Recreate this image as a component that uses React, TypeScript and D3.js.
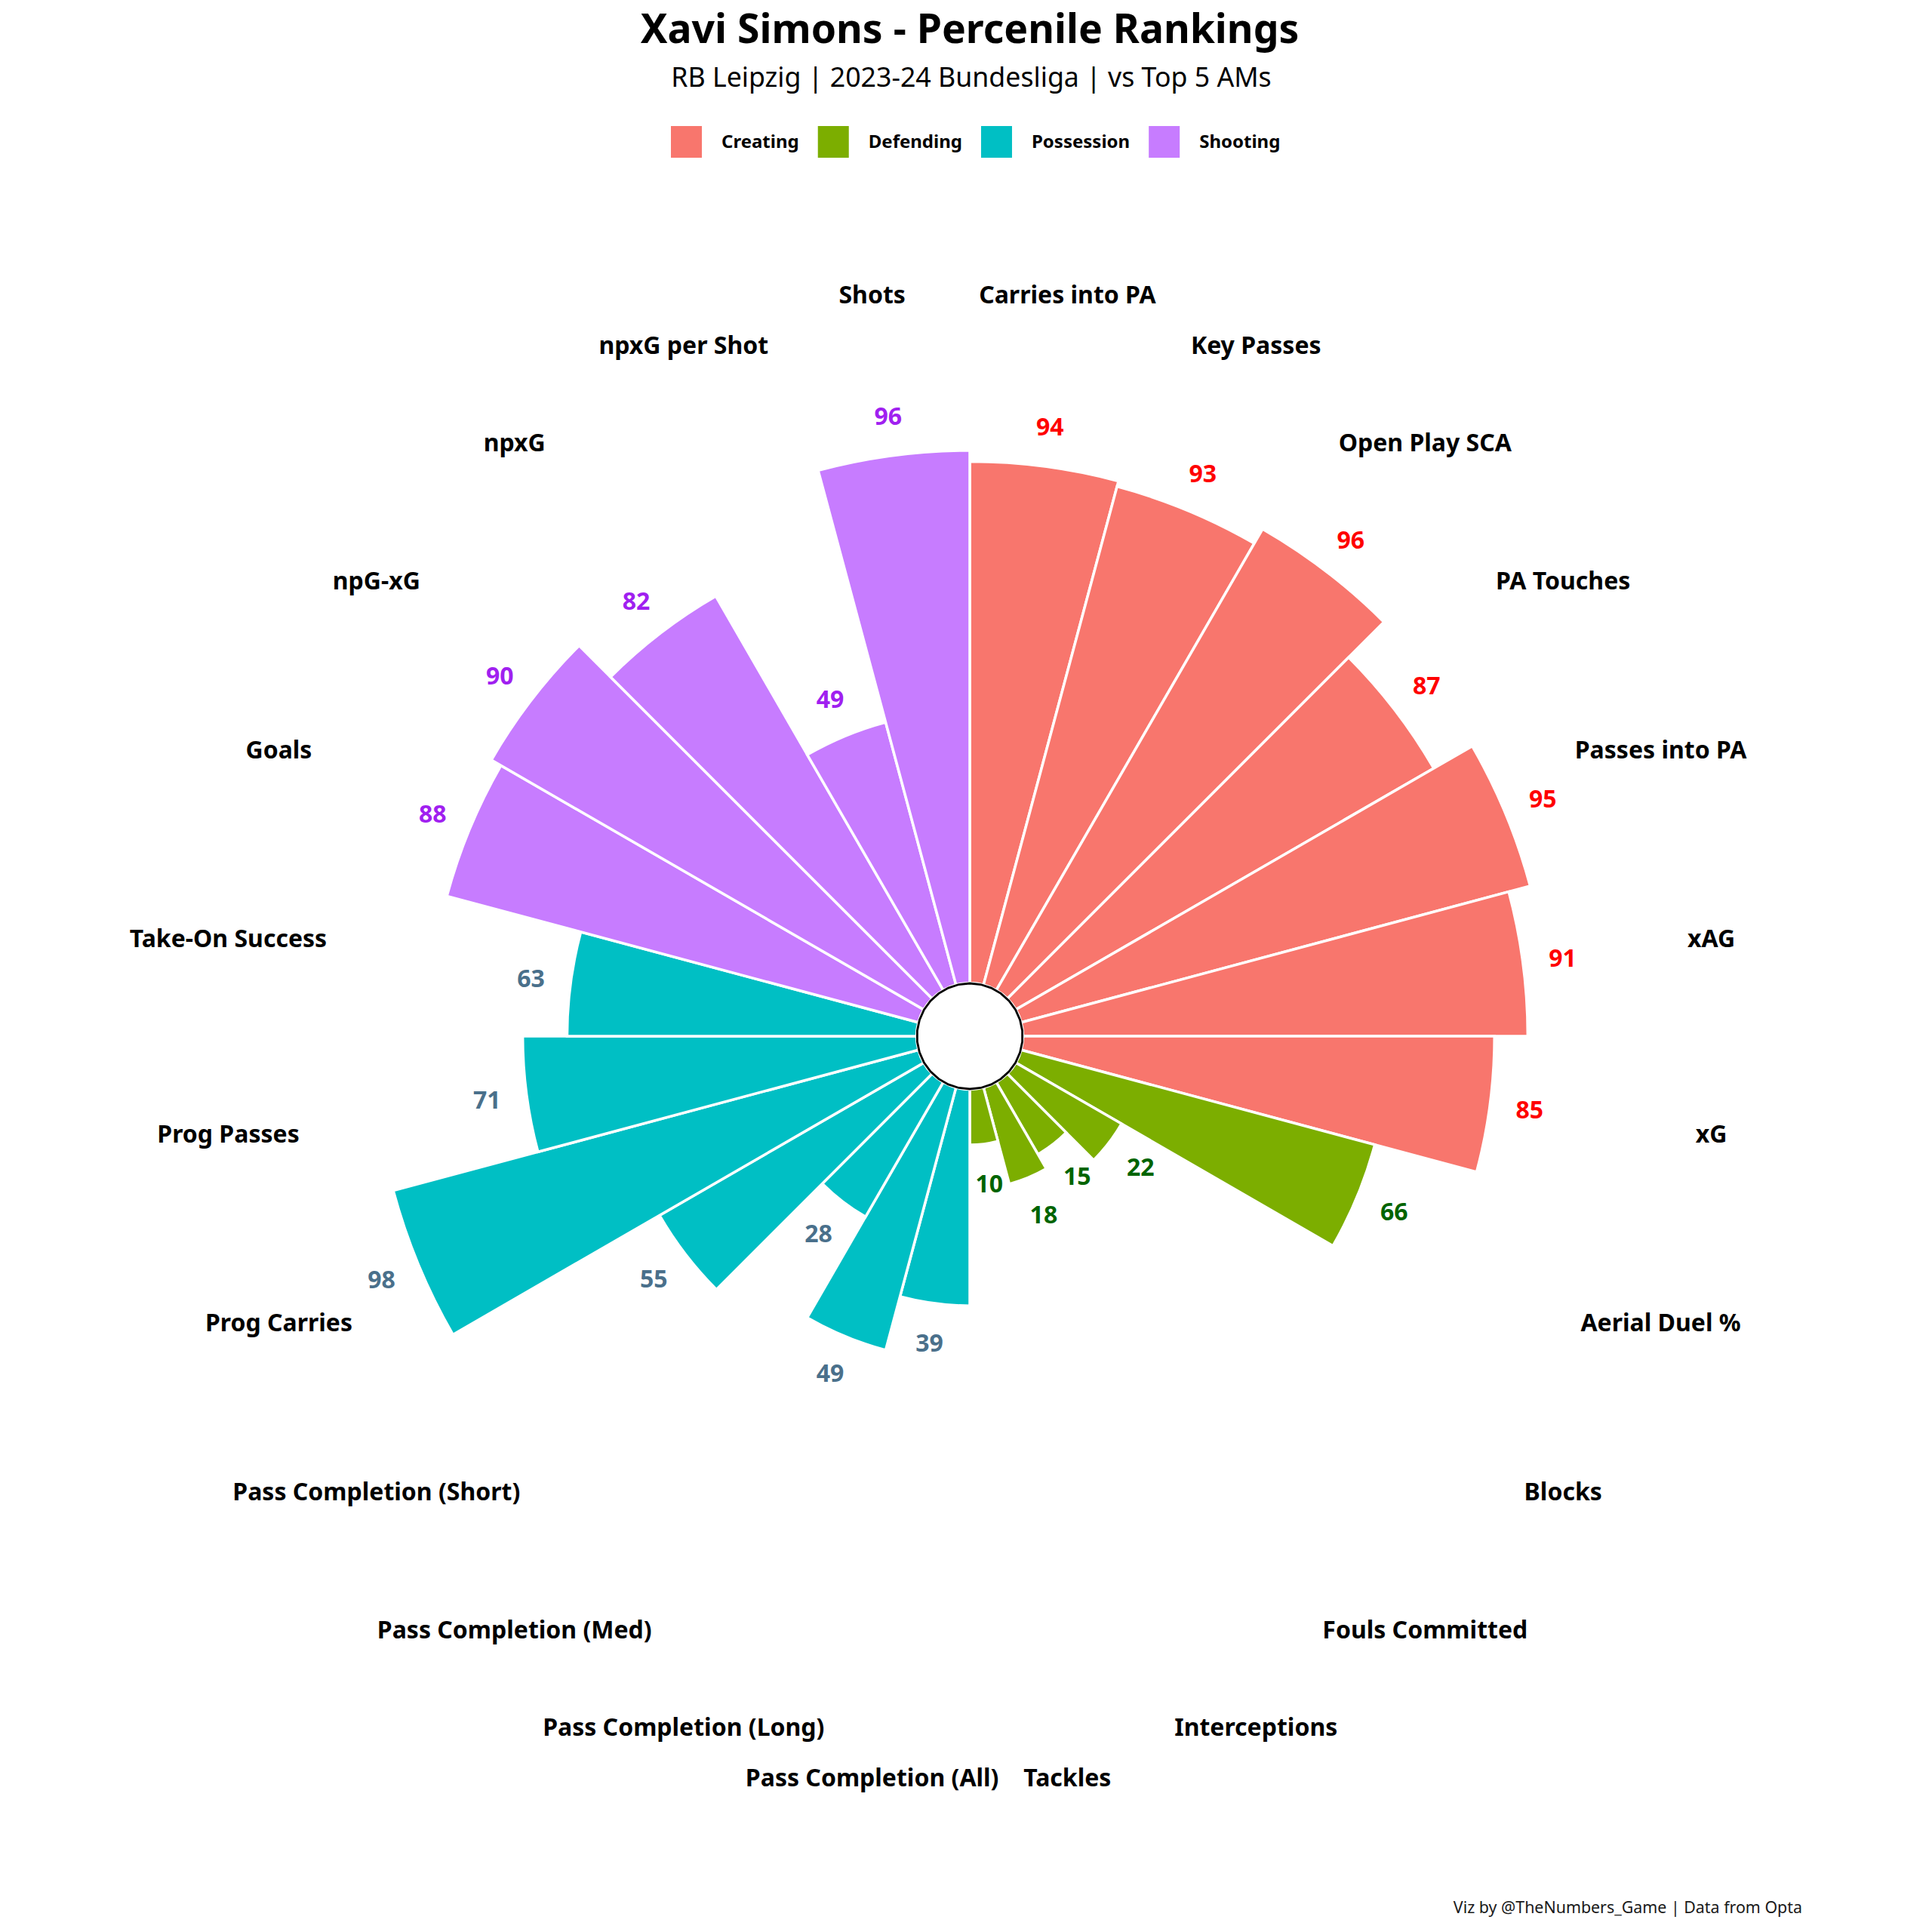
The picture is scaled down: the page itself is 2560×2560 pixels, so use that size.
import * as d3 from "d3";
import { useEffect, useRef } from "react";

const categories = [
  "Carries into PA", "Key Passes", "Open Play SCA", "PA Touches", "Passes into PA", "xAG", "xG",
  "Aerial Duel %", "Blocks", "Fouls Committed", "Interceptions", "Tackles",
  "Pass Completion (All)", "Pass Completion (Long)", "Pass Completion (Med)", "Pass Completion (Short)",
  "Prog Carries", "Prog Passes", "Take-On Success",
  "Goals", "npG-xG", "npxG", "npxG per Shot", "Shots",
];
const percentiles = [94, 93, 96, 87, 95, 91, 85, 66, 22, 15, 18, 10, 39, 49, 28, 55, 98, 71, 63, 88, 90, 82, 49, 96];
const groupOf = [
  "Creating", "Creating", "Creating", "Creating", "Creating", "Creating", "Creating",
  "Defending", "Defending", "Defending", "Defending", "Defending",
  "Possession", "Possession", "Possession", "Possession", "Possession", "Possession", "Possession",
  "Shooting", "Shooting", "Shooting", "Shooting", "Shooting",
];
const groups = ["Creating", "Defending", "Possession", "Shooting"];
const fillColors = ["#F8766D", "#7CAE00", "#00BFC4", "#C77CFF"];
const labelColors = ["#FF0000", "#006400", "#4A708B", "#A020F0"];

const W = 2560;
const H = 2560;
const CX = 1285;
const CY = 1373;
const FONT = "'Noto Sans', 'DejaVu Sans', sans-serif";

const App = () => {
  const ref = useRef<SVGSVGElement>(null);

  useEffect(() => {
    const svg = d3.select(ref.current);
    svg.attr("width", W).attr("height", H);

    svg.append("rect").attr("width", W).attr("height", H).attr("fill", "#fff");

    const r = d3.scaleLinear().domain([0, 100]).range([70.5, 805.5]);
    const angle = d3
      .scaleBand<string>()
      .domain(categories)
      .range([0, 2 * Math.PI])
      .padding(0);
    const fill = d3.scaleOrdinal<string, string>().domain(groups).range(fillColors);
    const labelFill = d3.scaleOrdinal<string, string>().domain(groups).range(labelColors);

    const data = categories.map((c, i) => ({
      name: c,
      value: percentiles[i],
      group: groupOf[i],
    }));

    const g = svg.append("g").attr("transform", `translate(${CX},${CY})`);

    const arc = d3
      .arc<any>()
      .innerRadius(r(0))
      .outerRadius((d) => r(d.value))
      .startAngle((d) => angle(d.name)!)
      .endAngle((d) => angle(d.name)! + angle.bandwidth());

    g.selectAll("path.bar")
      .data(data)
      .join("path")
      .attr("class", "bar")
      .attr("d", arc)
      .attr("fill", (d) => fill(d.group))
      .attr("stroke", "#fff")
      .attr("stroke-width", 3.5);

    // hole in the middle, drawn as a many-sided polygon like the original
    const ring = d3
      .lineRadial<number>()
      .angle((d) => d)
      .radius(70)
      .curve(d3.curveLinearClosed);
    g.append("path")
      .attr("d", ring(d3.range(30).map((k) => (k / 30) * 2 * Math.PI)))
      .attr("fill", "#fff")
      .attr("stroke", "#000")
      .attr("stroke-width", 2.8);

    const mid = (name: string) => angle(name)! + angle.bandwidth() / 2;

    // value labels
    g.selectAll("text.val")
      .data(data)
      .join("text")
      .attr("class", "val")
      .attr("x", (d) => Math.sin(mid(d.name)) * (r(d.value) + 53))
      .attr("y", (d) => -Math.cos(mid(d.name)) * (r(d.value) + 53))
      .attr("dy", "0.36em")
      .attr("text-anchor", "middle")
      .attr("font-family", FONT)
      .attr("font-weight", 700)
      .attr("font-size", 32)
      .attr("fill", (d) => labelFill(d.group))
      .text((d) => d.value);

    // category labels
    const labelR = 991;
    g.selectAll("text.cat")
      .data(data)
      .join("text")
      .attr("class", "cat")
      .attr("x", (d) => Math.sin(mid(d.name)) * labelR)
      .attr("y", (d) => -Math.cos(mid(d.name)) * labelR)
      .attr("dy", "0.36em")
      .attr("text-anchor", "middle")
      .attr("font-family", FONT)
      .attr("font-weight", 700)
      .attr("font-size", 32)
      .attr("fill", "#000")
      .text((d) => d.name);

    // titles
    svg.append("text")
      .attr("x", CX)
      .attr("y", 57)
      .attr("text-anchor", "middle")
      .attr("font-family", FONT)
      .attr("font-weight", 700)
      .attr("font-size", 53.5)
      .attr("fill", "#000")
      .text("Xavi Simons - Percenile Rankings");

    svg.append("text")
      .attr("x", CX + 2)
      .attr("y", 115)
      .attr("text-anchor", "middle")
      .attr("font-family", FONT)
      .attr("font-size", 35.7)
      .attr("fill", "#000")
      .text("RB Leipzig | 2023-24 Bundesliga | vs Top 5 AMs");

    // legend
    const legend = svg.append("g");
    let x = 889;
    groups.forEach((grp) => {
      legend.append("rect")
        .attr("x", x)
        .attr("y", 167)
        .attr("width", 41)
        .attr("height", 42)
        .attr("fill", fill(grp));
      const t = legend.append("text")
        .attr("x", x + 67)
        .attr("y", 196)
        .attr("font-family", FONT)
        .attr("font-weight", 700)
        .attr("font-size", 24)
        .attr("fill", "#000")
        .text(grp);
      const w = (t.node() as SVGTextElement).getComputedTextLength();
      x = x + 67 + w + 25;
    });

    // caption
    svg.append("text")
      .attr("x", 2388)
      .attr("y", 2535)
      .attr("text-anchor", "end")
      .attr("font-family", FONT)
      .attr("font-size", 21.4)
      .attr("fill", "#1a1a1a")
      .text("Viz by @TheNumbers_Game | Data from Opta");

    return () => {
      svg.selectAll("*").remove();
    };
  }, []);

  return (
    <svg
      ref={ref}
      style={{ position: "absolute", left: 0, top: 0, display: "block" }}
    ></svg>
  );
};

export default App;
